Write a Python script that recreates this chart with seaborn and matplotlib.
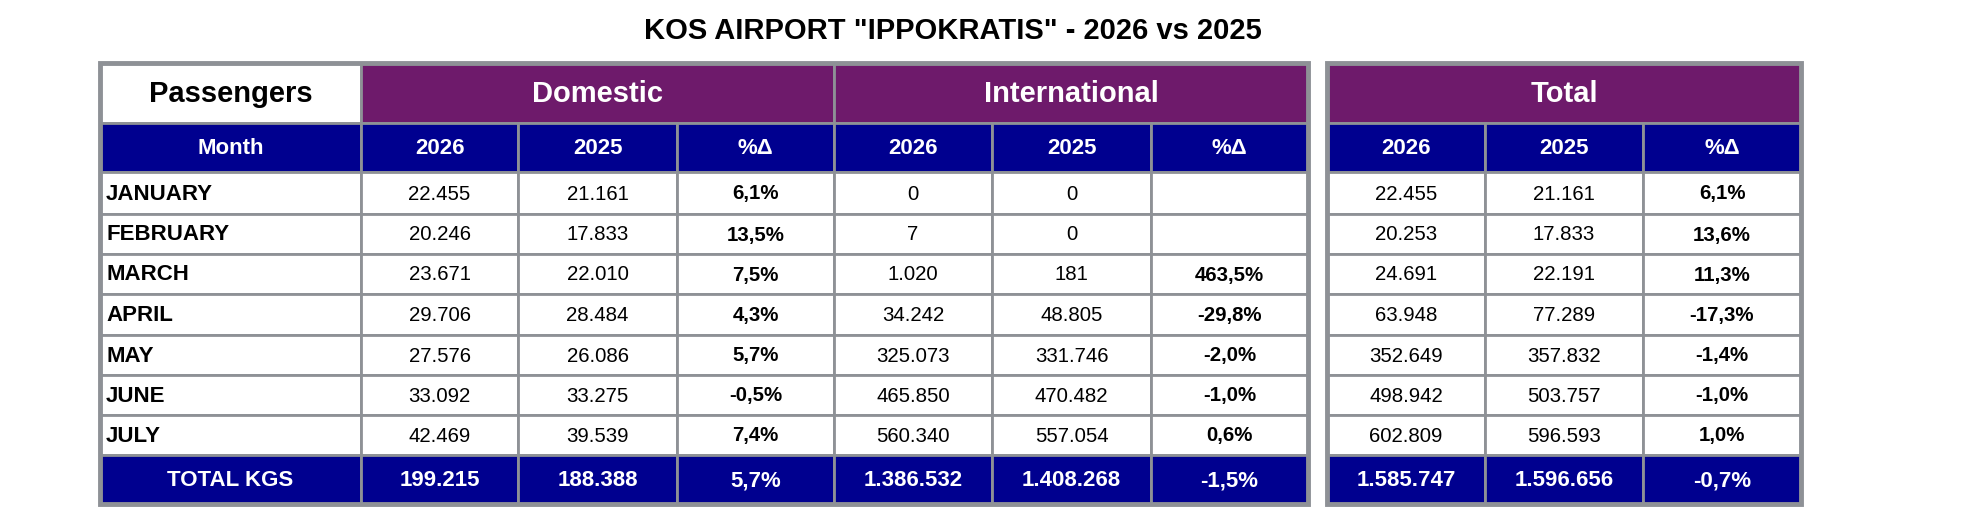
import matplotlib
matplotlib.use("Agg")
import matplotlib.pyplot as plt
from matplotlib.patches import Rectangle
import seaborn as sns

# Table values
months = ["JANUARY", "FEBRUARY", "MARCH", "APRIL", "MAY", "JUNE", "JULY"]
dom_2026 = [22455, 20246, 23671, 29706, 27576, 33092, 42469]
dom_2025 = [21161, 17833, 22010, 28484, 26086, 33275, 39539]
dom_pct = [6.1, 13.5, 7.5, 4.3, 5.7, -0.5, 7.4]
int_2026 = [0, 7, 1020, 34242, 325073, 465850, 560340]
int_2025 = [0, 0, 181, 48805, 331746, 470482, 557054]
int_pct = [None, None, 463.5, -29.8, -2.0, -1.0, 0.6]
tot_2026 = [22455, 20253, 24691, 63948, 352649, 498942, 602809]
tot_2025 = [21161, 17833, 22191, 77289, 357832, 503757, 596593]
tot_pct = [6.1, 13.6, 11.3, -17.3, -1.4, -1.0, 1.0]

total_label = "TOTAL KGS"
dom_total = [199215, 188388, 5.7]
int_total = [1386532, 1408268, -1.5]
tot_total = [1585747, 1596656, -0.7]

groups = ["Domestic", "International", "Total"]
sub_headers = ["2026", "2025", "%Δ"]
title = 'KOS AIRPORT "IPPOKRATIS" - 2026 vs 2025'

PURPLE = "#6e1a6b"
NAVY = "#00008f"
GRID = "#8e9196"


def fmt_int(v):
    return f"{v:,}".replace(",", ".")


def fmt_pct(v):
    if v is None:
        return ""
    return f"{v:.1f}".replace(".", ",") + "%"


sns.set_theme(style="white")
plt.rcParams["font.family"] = ["Liberation Sans", "DejaVu Sans"]
plt.rcParams["text.color"] = "black"

W, H = 1972, 527
fig = plt.figure(figsize=(W / 100, H / 100), dpi=100)
ax = fig.add_axes([0, 0, 1, 1])
ax.set_xlim(0, W)
ax.set_ylim(H, 0)
ax.axis("off")

# layout (pixels)
main_cols = [100, 361, 518, 677, 834, 992, 1151, 1308]
tot_cols = [1327, 1485, 1643, 1801]
rows = [63, 123, 172, 214, 254, 294, 335, 375, 415, 455, 504]


def cell(x0, x1, y0, y1, face, text="", color="black", bold=False,
         size=14.7, ha="center", lw=2.0):
    ax.add_patch(Rectangle((x0, y0), x1 - x0, y1 - y0, facecolor=face,
                           edgecolor=GRID, linewidth=lw, zorder=1))
    if text:
        tx = (x0 + x1) / 2 if ha == "center" else x0 + 6
        ax.text(tx, (y0 + y1) / 2 + 1, text, ha=ha, va="center", color=color,
                fontsize=size, fontweight="bold" if bold else "normal", zorder=3)


ax.text(953, 31, title, ha="center", va="center", fontsize=21,
        fontweight="bold", color="black")

# header row 1
cell(main_cols[0], main_cols[1], rows[0], rows[1], "white", "Passengers",
     bold=True, size=21)
cell(main_cols[1], main_cols[4], rows[0], rows[1], PURPLE, groups[0],
     color="white", bold=True, size=21)
cell(main_cols[4], main_cols[7], rows[0], rows[1], PURPLE, groups[1],
     color="white", bold=True, size=21)
cell(tot_cols[0], tot_cols[3], rows[0], rows[1], PURPLE, groups[2],
     color="white", bold=True, size=21)

# header row 2
cell(main_cols[0], main_cols[1], rows[1], rows[2], NAVY, "Month",
     color="white", bold=True, size=16)
edges = [main_cols[1:5], main_cols[4:8], tot_cols]
for e in edges:
    for j, lab in enumerate(sub_headers):
        cell(e[j], e[j + 1], rows[1], rows[2], NAVY, lab, color="white",
             bold=True, size=16)

# body
series = [(dom_2026, dom_2025, dom_pct), (int_2026, int_2025, int_pct),
          (tot_2026, tot_2025, tot_pct)]
for i, m in enumerate(months):
    y0, y1 = rows[2 + i], rows[3 + i]
    cell(main_cols[0], main_cols[1], y0, y1, "white", m, bold=True, size=16,
         ha="left")
    for e, (a, b, p) in zip(edges, series):
        cell(e[0], e[1], y0, y1, "white", fmt_int(a[i]))
        cell(e[1], e[2], y0, y1, "white", fmt_int(b[i]))
        cell(e[2], e[3], y0, y1, "white", fmt_pct(p[i]), bold=True)

# totals
y0, y1 = rows[9], rows[10]
cell(main_cols[0], main_cols[1], y0, y1, NAVY, total_label, color="white",
     bold=True, size=16)
for e, t in zip(edges, [dom_total, int_total, tot_total]):
    cell(e[0], e[1], y0, y1, NAVY, fmt_int(t[0]), color="white", bold=True, size=16)
    cell(e[1], e[2], y0, y1, NAVY, fmt_int(t[1]), color="white", bold=True, size=16)
    cell(e[2], e[3], y0, y1, NAVY, fmt_pct(t[2]), color="white", bold=True, size=16)

# outer borders
for x0, x1 in [(main_cols[0], main_cols[-1]), (tot_cols[0], tot_cols[-1])]:
    ax.add_patch(Rectangle((x0, rows[0]), x1 - x0, rows[-1] - rows[0],
                           facecolor="none", edgecolor=GRID, linewidth=3.5,
                           zorder=4))

fig.savefig("out.png", dpi=100, facecolor="white")
